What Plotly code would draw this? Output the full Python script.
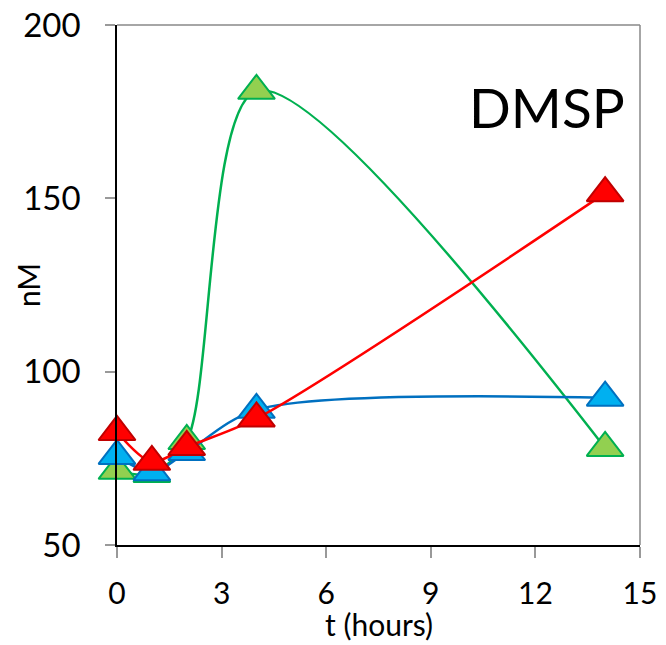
import plotly.graph_objects as go

t = [0, 1, 2, 4, 14]
green = [71.4, 70.5, 80, 181, 78]
blue = [75.7, 71, 76.8, 89, 92.5]
red = [82.6, 74, 78.3, 86.5, 151.5]

series = [
    ("green", green, "#00B050", "#92D050", "#00B050"),
    ("blue", blue, "#0070C0", "#00B0F0", "#0070C0"),
    ("red", red, "#FF0000", "#FF0000", "#C00000"),
]

fig = go.Figure()
for name, ys, lc, fc, mc in series:
    fig.add_trace(go.Scatter(
        x=t, y=ys, mode="lines+markers", name=name,
        line=dict(color=lc, width=2.5, shape="spline", smoothing=0.85),
        marker=dict(symbol="triangle-up", size=32, color=fc,
                    line=dict(color=mc, width=2)),
        cliponaxis=False,
    ))

font = "Lato, 'Open Sans', sans-serif"
fig.update_layout(
    width=666, height=645,
    margin=dict(l=117, r=26, t=25, b=100, autoexpand=False),
    paper_bgcolor="white", plot_bgcolor="white",
    showlegend=False,
    font=dict(family=font, color="black"),
    xaxis=dict(range=[0, 15], tickvals=[0, 3, 6, 9, 12, 15],
               showgrid=False, zeroline=False, automargin=False,
               showline=True, linecolor="black", linewidth=1.5,
               ticks="outside", ticklen=11, tickcolor="#999", tickwidth=1.5,
               tickfont=dict(size=30), ticklabelstandoff=10),
    yaxis=dict(range=[50, 200], tickvals=[50, 100, 150, 200],
               showgrid=False, zeroline=False, automargin=False,
               showline=True, linecolor="black", linewidth=1.5,
               ticks="outside", ticklen=10, tickcolor="#999", tickwidth=1.5,
               tickfont=dict(size=33), ticklabelstandoff=18),
    shapes=[
        dict(type="line", xref="paper", yref="paper", x0=0, x1=1, y0=1, y1=1,
             line=dict(color="#888", width=1.5)),
        dict(type="line", xref="paper", yref="paper", x0=1, x1=1, y0=0, y1=1,
             line=dict(color="#888", width=1.5)),
    ],
    annotations=[
        dict(text="t (hours)", xref="paper", yref="paper", x=0.5, y=-0.152,
             xanchor="center", yanchor="middle", showarrow=False,
             font=dict(size=30, family=font, color="black")),
        dict(text="DMSP", xref="paper", yref="paper", x=0.975, y=0.842,
             xanchor="right", yanchor="middle", showarrow=False,
             font=dict(size=55, family=font, color="black")),
        dict(text="nM", xref="paper", yref="paper", x=-0.17, y=0.5,
             xanchor="center", yanchor="middle", showarrow=False, textangle=-90,
             font=dict(size=30, family=font, color="black")),
    ],
)

fig.write_html("out.html")
